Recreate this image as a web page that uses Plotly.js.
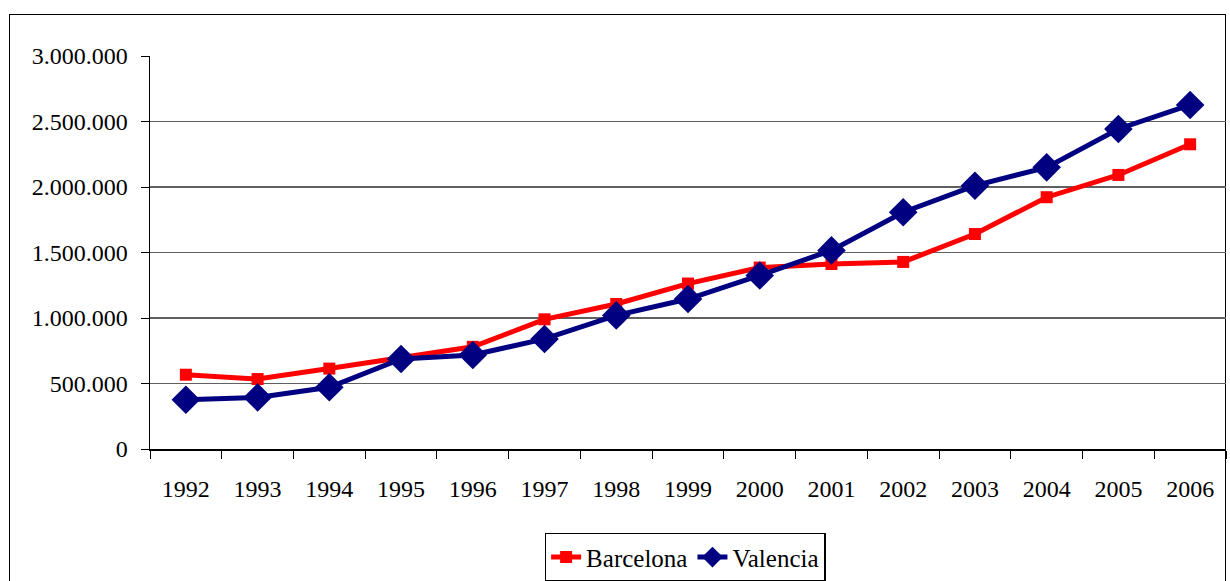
<!DOCTYPE html>
<html>
<head>
<meta charset="utf-8">
<script src="https://cdn.plot.ly/plotly-3.0.1.min.js"></script>
<style>
html, body { margin:0; padding:0; background:#fff; }
#frame { position:absolute; left:9px; top:14px; width:1217px; height:600px; border:1.5px solid #000; box-sizing:border-box; }
#chart { position:absolute; left:0; top:0; width:1230px; height:581px; }
</style>
</head>
<body>
<div id="frame"></div>
<div id="chart"></div>
<script>
const years = ['1992','1993','1994','1995','1996','1997','1998','1999','2000','2001','2002','2003','2004','2005','2006'];
const barcelona = [567000, 534000, 614000, 695000, 780000, 990000, 1107000, 1263000, 1385000, 1412000, 1428000, 1641000, 1922000, 2092000, 2326000];
const valencia  = [376000, 394000, 471000, 687000, 718000, 840000, 1020000, 1145000, 1325000, 1516000, 1807000, 2010000, 2150000, 2443000, 2626000];
const yTicks = [0, 500000, 1000000, 1500000, 2000000, 2500000, 3000000];
const yTickText = ['0','500.000','1.000.000','1.500.000','2.000.000','2.500.000','3.000.000'];

const FAMILY = 'Liberation Serif, Times New Roman, serif';
function f(s) { return {family: FAMILY, size: s, color: '#000'}; }

const traces = [
  {x: years, y: barcelona, name: 'Barcelona', type: 'scatter', mode: 'lines+markers',
   line: {color: '#ff0000', width: 5}, marker: {symbol: 'square', size: 12, color: '#ff0000'}},
  {x: years, y: valencia, name: 'Valencia', type: 'scatter', mode: 'lines+markers',
   line: {color: '#000080', width: 5}, marker: {symbol: 'diamond', size: 22, color: '#000080'}}
];

const layout = {
  width: 1230, height: 581,
  margin: {l: 150, r: 4, t: 56, b: 132},
  paper_bgcolor: 'rgba(0,0,0,0)',
  plot_bgcolor: 'rgba(0,0,0,0)',
  font: f(24),
  showlegend: true,
  legend: {orientation: 'h', xref: 'container', yref: 'container',
           x: 0.557, xanchor: 'center', y: 0.083, yanchor: 'top',
           bordercolor: '#000', borderwidth: 1.5, bgcolor: '#fff', font: f(25),
           tracegroupgap: 0},
  xaxis: {type: 'category', tickson: 'boundaries', ticks: 'outside', ticklen: 8, tickcolor: '#000',
          showline: true, linecolor: '#000', linewidth: 1.5, showgrid: false, automargin: false,
          tickfont: f(24), ticklabelstandoff: 18, range: [-0.5, 14.5], fixedrange: true},
  yaxis: {range: [0, 3000000], tickvals: yTicks, ticktext: yTickText, ticks: 'outside', ticklen: 8,
          tickcolor: '#000', showline: true, linecolor: '#000', linewidth: 1.5, automargin: false,
          showgrid: true, gridcolor: '#606060', gridwidth: 1.2, zeroline: false,
          tickfont: f(24), ticklabelstandoff: 8, fixedrange: true}
};

Plotly.newPlot('chart', traces, layout, {displayModeBar: false, staticPlot: true});
</script>
</body>
</html>
